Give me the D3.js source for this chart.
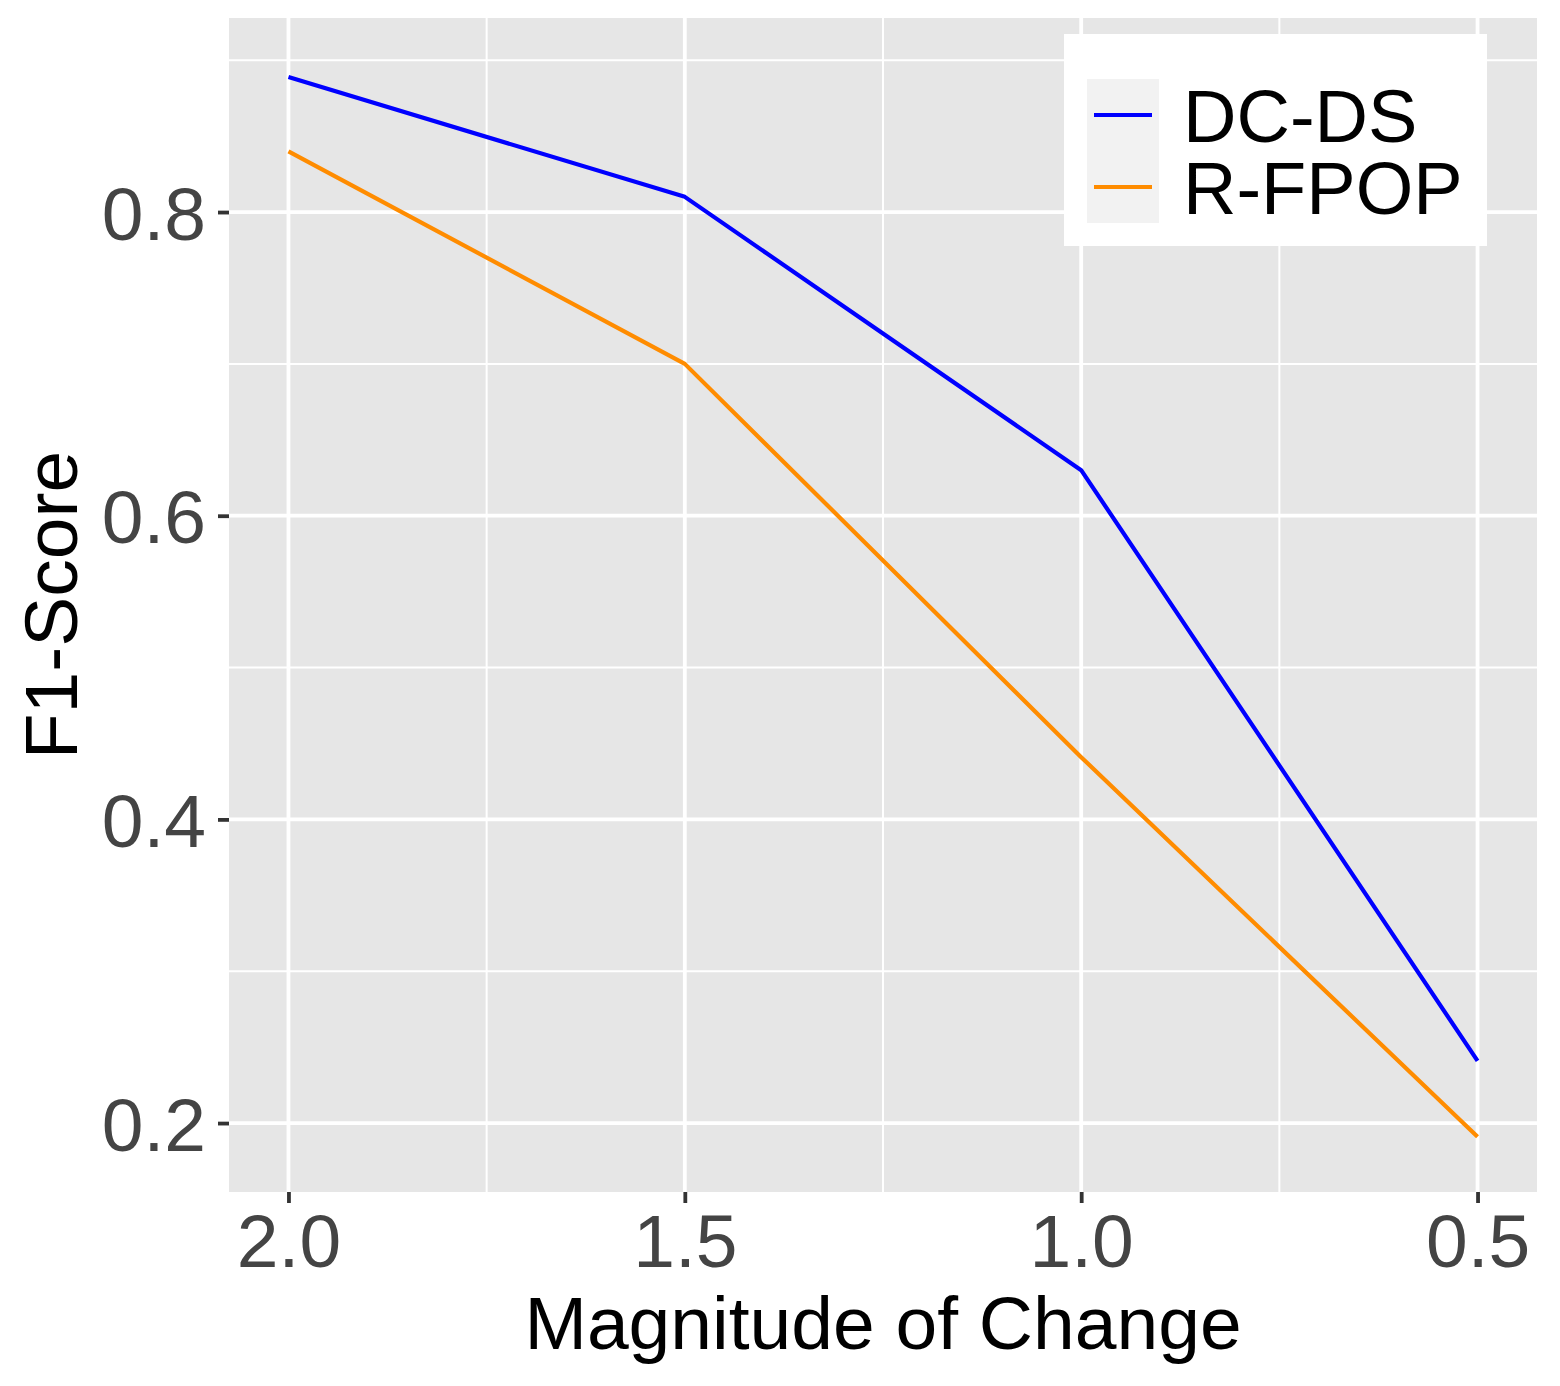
<!DOCTYPE html>
<html>
<head>
<meta charset="utf-8">
<script src="https://cdn.jsdelivr.net/npm/d3@7"></script>
<style>
  html, body { margin: 0; padding: 0; background: #fff; }
  svg { display: block; font-family: "Liberation Sans", Arial, Helvetica, sans-serif; }
</style>
</head>
<body>
<svg id="chart" width="1560" height="1386"></svg>
<script>
// ---- data ----
const magnitudes = [2.0, 1.5, 1.0, 0.5];
const dcdsValues = [0.889, 0.810, 0.630, 0.241];
const rfpopValues = [0.840, 0.700, 0.441, 0.191];
const seriesNames = ["DC-DS", "R-FPOP"];
const seriesColors = ["#0000FF", "#FF8C00"];
const xTicks = [2.0, 1.5, 1.0, 0.5];
const xMinor = [1.75, 1.25, 0.75];
const yTicks = [0.2, 0.4, 0.6, 0.8];
const yMinor = [0.3, 0.5, 0.7, 0.9];
const xLimits = [2.075, 0.425];
const yLimits = [0.1546, 0.9278];

const series = [
  { name: seriesNames[0], color: seriesColors[0], values: dcdsValues },
  { name: seriesNames[1], color: seriesColors[1], values: rfpopValues }
];

// ---- layout ----
const panel = { left: 229, right: 1537, top: 18, bottom: 1192 };
const svg = d3.select("#chart");

const x = d3.scaleLinear().domain(xLimits).range([panel.left, panel.right]);
const y = d3.scaleLinear().domain(yLimits).range([panel.bottom, panel.top]);

// panel background
svg.append("rect")
  .attr("x", panel.left).attr("y", panel.top)
  .attr("width", panel.right - panel.left).attr("height", panel.bottom - panel.top)
  .attr("fill", "#E6E6E6");

const grid = svg.append("g");
// minor grid
grid.selectAll("line.ymin").data(yMinor).enter().append("line")
  .attr("x1", panel.left).attr("x2", panel.right)
  .attr("y1", d => y(d)).attr("y2", d => y(d))
  .attr("stroke", "#fff").attr("stroke-width", 2);
grid.selectAll("line.xmin").data(xMinor).enter().append("line")
  .attr("y1", panel.top).attr("y2", panel.bottom)
  .attr("x1", d => x(d)).attr("x2", d => x(d))
  .attr("stroke", "#fff").attr("stroke-width", 2);
// major grid
grid.selectAll("line.ymaj").data(yTicks).enter().append("line")
  .attr("x1", panel.left).attr("x2", panel.right)
  .attr("y1", d => y(d)).attr("y2", d => y(d))
  .attr("stroke", "#fff").attr("stroke-width", 3.8);
grid.selectAll("line.xmaj").data(xTicks).enter().append("line")
  .attr("y1", panel.top).attr("y2", panel.bottom)
  .attr("x1", d => x(d)).attr("x2", d => x(d))
  .attr("stroke", "#fff").attr("stroke-width", 3.8);

// lines
const line = d3.line().x((d, i) => x(magnitudes[i])).y(d => y(d));
svg.append("g").selectAll("path").data(series).enter().append("path")
  .attr("d", d => line(d.values))
  .attr("fill", "none")
  .attr("stroke", d => d.color)
  .attr("stroke-width", 4.2)
  .attr("stroke-linejoin", "round");

// axes
const xAxis = d3.axisBottom(x).tickValues(xTicks).tickFormat(d3.format(".1f")).tickSize(11).tickPadding(10);
const gx = svg.append("g").attr("transform", `translate(0,${panel.bottom})`).call(xAxis);
const yAxis = d3.axisLeft(y).tickValues(yTicks).tickFormat(d3.format(".1f")).tickSize(11).tickPadding(12);
const gy = svg.append("g").attr("transform", `translate(${panel.left},0)`).call(yAxis);

[gx, gy].forEach(g => {
  g.select(".domain").remove();
  g.selectAll(".tick line").attr("stroke", "#333333").attr("stroke-width", 3.8);
  g.selectAll(".tick text")
    .attr("fill", "#444444")
    .style("font-size", "75px")
    .style("font-family", "'Liberation Sans', Arial, Helvetica, sans-serif");
});
gx.selectAll(".tick text").attr("dy", null).attr("y", null)
  .attr("transform", "translate(0,75)");
gy.selectAll(".tick text").attr("dy", "0.36em");

// axis titles
svg.append("text")
  .attr("x", (panel.left + panel.right) / 2).attr("y", 1349)
  .attr("text-anchor", "middle")
  .attr("fill", "#000").style("font-size", "75px")
  .text("Magnitude of Change");
svg.append("text")
  .attr("transform", `translate(77,${(panel.top + panel.bottom) / 2}) rotate(-90)`)
  .attr("text-anchor", "middle")
  .attr("fill", "#000").style("font-size", "75px")
  .text("F1-Score");

// legend
const lg = svg.append("g");
lg.append("rect").attr("x", 1064).attr("y", 34).attr("width", 423).attr("height", 212).attr("fill", "#fff");
const keyH = 72;
const items = lg.selectAll("g.item").data(series).enter().append("g")
  .attr("transform", (d, i) => `translate(1087,${79 + i * keyH})`);
items.append("rect").attr("x", 0).attr("y", 0).attr("width", 72).attr("height", keyH).attr("fill", "#F2F2F2");
items.append("line").attr("x1", 7).attr("x2", 65).attr("y1", 36).attr("y2", 36)
  .attr("stroke", d => d.color).attr("stroke-width", 4.2);
items.append("text").attr("x", 96).attr("y", 36).attr("dy", "0.36em")
  .attr("fill", "#000").style("font-size", "74px")
  .text(d => d.name);
</script>
</body>
</html>
